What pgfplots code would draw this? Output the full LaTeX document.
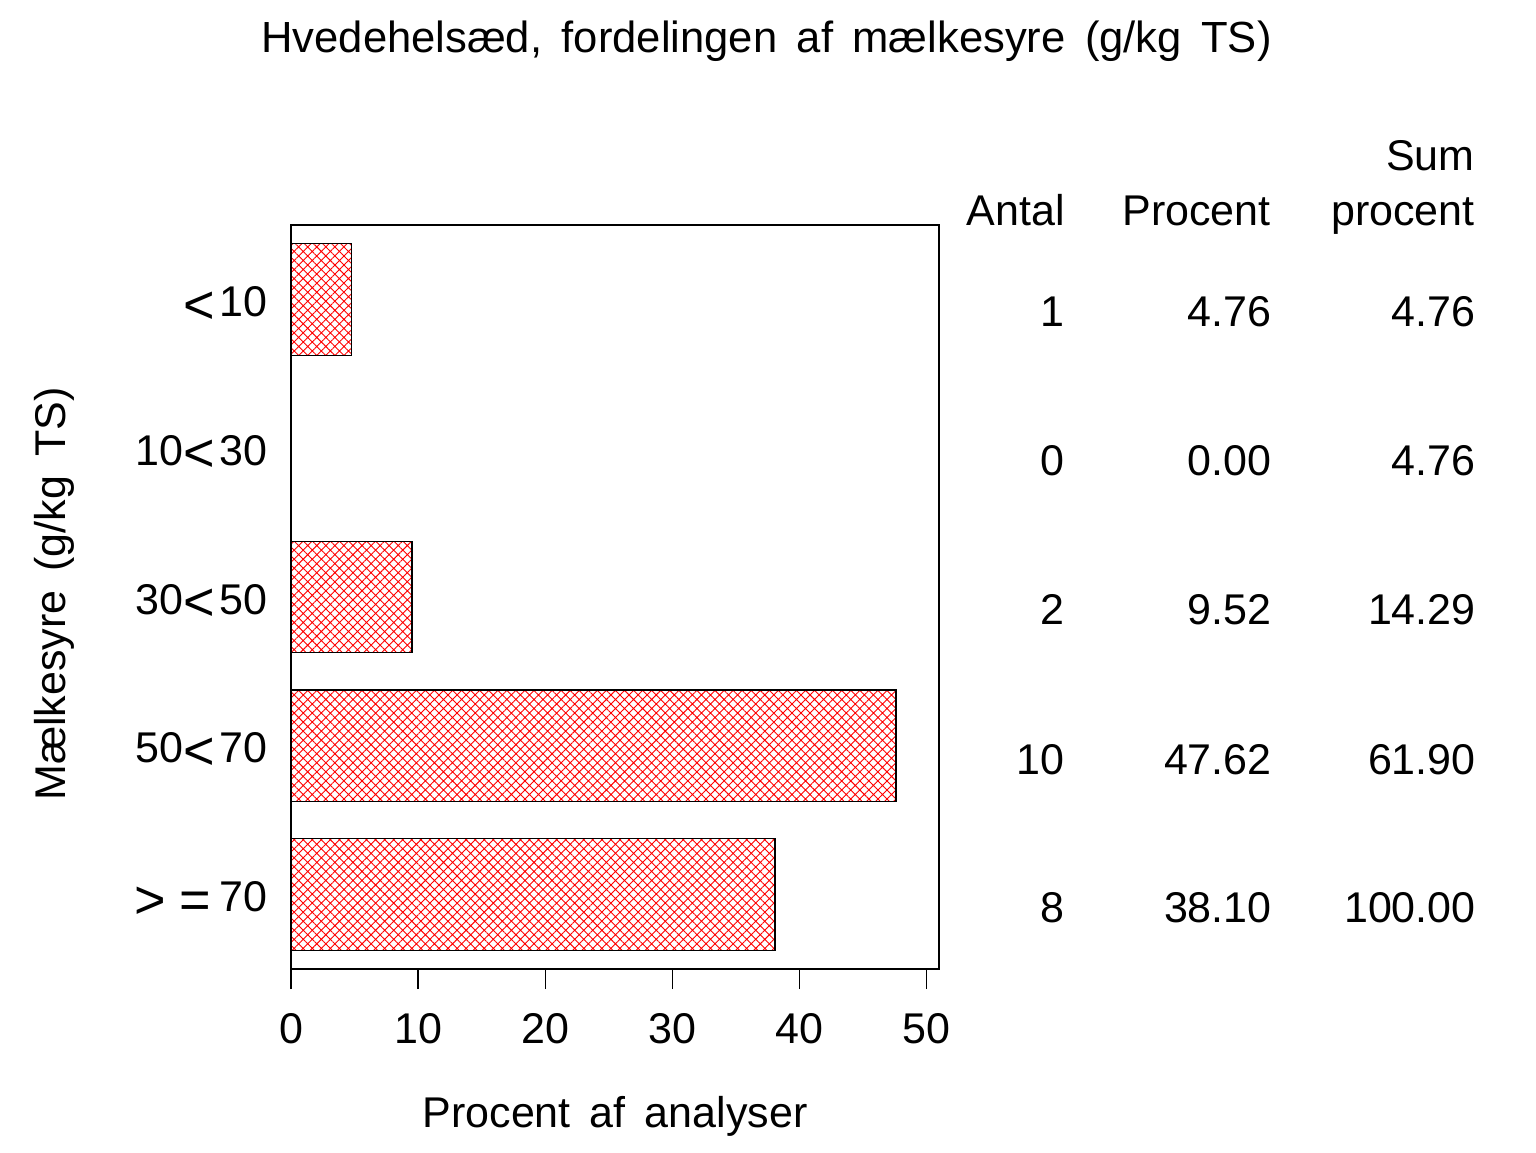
\documentclass[border=0pt]{standalone}
\usepackage{pgfplots}
\pgfplotsset{compat=1.18}
\usepackage{fontspec}
\setmainfont[WordSpace=1.6]{Liberation Sans}
\usetikzlibrary{patterns.meta}
\newcommand{\fs}{\fontsize{21.5pt}{25pt}\selectfont}
\newcommand{\rl}[1]{\raisebox{-3.3pt}{\fontsize{27pt}{25pt}\selectfont #1}}
\begin{document}
\begin{tikzpicture}
\path[use as bounding box] (0,0) rectangle (768pt,576pt);
\begin{axis}[
  at={(145.5pt,91.5pt)}, anchor=south west,
  scale only axis, width=324pt, height=372pt,
  xmin=0, xmax=51, ymin=-0.5, ymax=4.5, y dir=reverse,
  xtick={0,10,20,30,40,50},
  ytick={0,1,2,3,4},
  yticklabels={{\rl{<}\hspace{2pt}10},{10\rl{<}\hspace{2pt}30},{30\rl{<}\hspace{2pt}50},{50\rl{<}\hspace{2pt}70},{\rl{>}\hspace{7pt}\rl{=}\hspace{4pt}70}},
  axis line style={line width=0.6pt},
  tick align=outside, major tick length=10pt,
  xtick style={line width=0.6pt, black},
  ytick style={draw=none},
  xtick pos=bottom,
  /pgf/number format/assume math mode=true,
  tick label style={font=\fs},
  xticklabel style={anchor=base, yshift=-27pt},
  yticklabel style={anchor=base east, xshift=1.5pt, yshift=-8.5pt},
  clip=false,
]
\addplot[xbar, bar width=0.75, draw=black, line width=0.6pt,
  pattern={Hatch[angle=45,distance=3.2pt,line width=0.45pt]}, pattern color=red]
  coordinates {(4.76,0) (0,1) (9.52,2) (47.62,3) (38.10,4)};
\end{axis}
% title
\node[anchor=base, font=\fontsize{21.8pt}{27pt}\selectfont] at (383.25pt,549.5pt) {Hvedehelsæd, fordelingen af mælkesyre (g/kg TS)};
% axis labels
\node[anchor=base, font=\fs] at (307.5pt,12.5pt) {Procent af analyser};
\node[anchor=base, rotate=90, font=\fs] at (32.5pt,279pt) {Mælkesyre (g/kg TS)};
% table headers
\node[anchor=base east, inner sep=0pt, font=\fs] at (532.5pt,463pt) {Antal};
\node[anchor=base east, inner sep=0pt, font=\fs] at (635.5pt,463pt) {Procent};
\node[anchor=base east, inner sep=0pt, font=\fs] at (737.5pt,463pt) {procent};
\node[anchor=base east, inner sep=0pt, font=\fs] at (737.5pt,490.5pt) {Sum};
% table values
\foreach \y/\a/\p/\s in {412.5/1/4.76/4.76, 338/0/0.00/4.76, 263.5/2/9.52/14.29, 189/10/47.62/61.90, 115/8/38.10/100.00}{
  \node[anchor=base east, inner sep=0pt, font=\fs] at (532.5pt,\y pt) {\a};
  \node[anchor=base east, inner sep=0pt, font=\fs] at (636pt,\y pt) {\p};
  \node[anchor=base east, inner sep=0pt, font=\fs] at (738pt,\y pt) {\s};
}
\end{tikzpicture}
\end{document}
